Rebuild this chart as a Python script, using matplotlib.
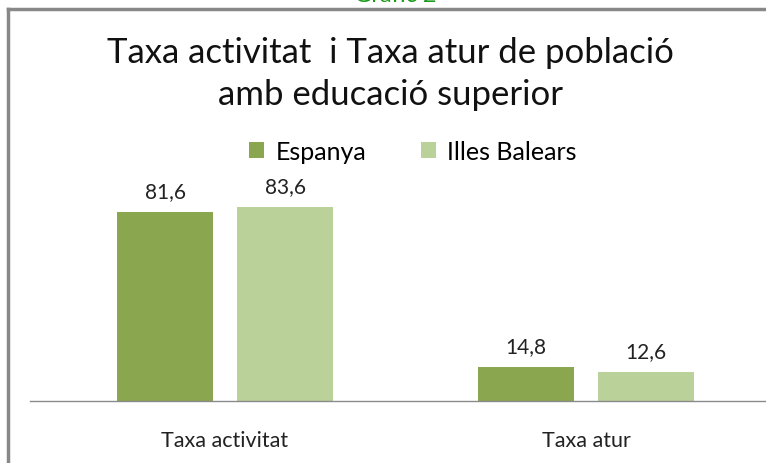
import matplotlib
matplotlib.use("Agg")
import matplotlib.pyplot as plt
from matplotlib.lines import Line2D
import numpy as np

categories = ["Taxa activitat", "Taxa atur"]
series_names = ["Espanya", "Illes Balears"]
espanya = [81.6, 14.8]
balears = [83.6, 12.6]
labels_esp = ["81,6", "14,8"]
labels_bal = ["83,6", "12,6"]

FONT = ["Lato", "DejaVu Sans"]
plt.rcParams['font.family'] = FONT

W, H = 766, 464
fig = plt.figure(figsize=(W / 100, H / 100), dpi=100)
fig.patch.set_facecolor("white")

def fx(px):
    return px / W

def fy(py):
    return 1 - py / H

# Axes: baseline at y=402 px, top at 180 px; x from 30 to 766 px
ax = fig.add_axes([fx(30), fy(402), fx(766 - 30), (402 - 180) / H])
x = np.arange(len(categories))
bw = 0.266
off = (96 + 24) / 2 / 361
c1 = "#8aa64e"
c2 = "#bbd19a"
b1 = ax.bar(x - off, espanya, bw, color=c1, label=series_names[0])
b2 = ax.bar(x + off, balears, bw, color=c2, label=series_names[1])
ax.set_ylim(0, 95.9)
ax.set_xlim(-195 / 361, (766 - 225) / 361)
for s in ["top", "right", "left"]:
    ax.spines[s].set_visible(False)
ax.spines["bottom"].set_color("#8a8a8a")
ax.spines["bottom"].set_linewidth(1.0)
ax.set_yticks([])
ax.set_xticks(x)
ax.set_xticklabels(categories, fontsize=15.5, color="#222222")
ax.tick_params(axis="x", length=0, pad=21)

for rects, labs in ((b1, labels_esp), (b2, labels_bal)):
    for r, lab in zip(rects, labs):
        ax.annotate(lab, (r.get_x() + r.get_width() / 2, r.get_height()),
                    xytext=(0, 8), textcoords="offset points",
                    ha="center", va="bottom", fontsize=15, color="#222222")

fig.text(fx(390), fy(74), "Taxa activitat  i Taxa atur de població\namb educació superior",
         ha="center", va="center", fontsize=25, linespacing=1.4, color="#111111")

leg = fig.legend(handles=[b1, b2], loc="center", bbox_to_anchor=(fx(413), fy(152)),
                 ncol=2, frameon=False, fontsize=18, handlelength=0.6, handleheight=0.6,
                 handletextpad=0.45, columnspacing=2.2)

# Border
fig.add_artist(Line2D([fx(8), fx(8)], [fy(10), 0], color="#888888", lw=2.5))
fig.add_artist(Line2D([fx(8), 1], [fy(10), fy(10)], color="#888888", lw=2.5))

# Cut-off heading above the frame
fig.text(fx(395), fy(1.5), "Gràfic 2", ha="center", va="baseline",
         fontsize=17, color="#1a9a1a")

fig.savefig("out.png", dpi=100)
